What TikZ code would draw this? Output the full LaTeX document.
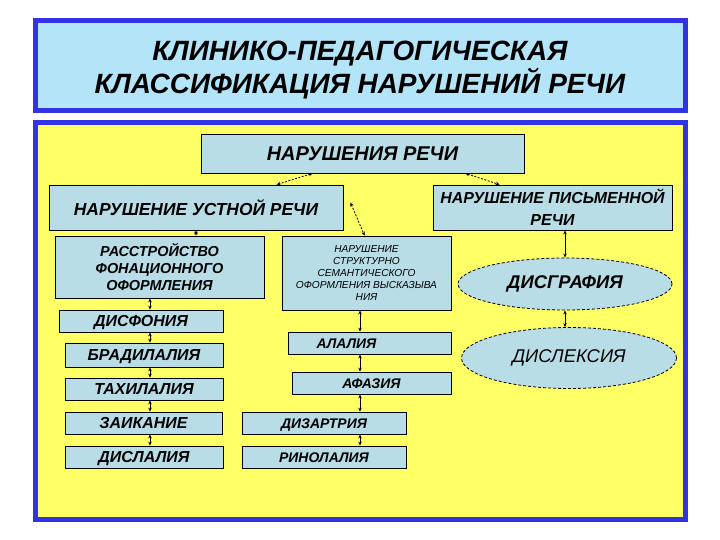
\documentclass[tikz,border=0pt]{standalone}
\usepackage{fontspec}
\setmainfont{Liberation Sans}
\usetikzlibrary{shapes.geometric, arrows.meta, positioning, calc}

\definecolor{frameblue}{RGB}{51,51,230}
\definecolor{titlefill}{RGB}{180,228,248}
\definecolor{panelyellow}{RGB}{255,255,102}
\definecolor{boxfill}{RGB}{184,221,230}

\begin{document}
\begin{tikzpicture}[
    x=1bp, y=-1bp,
    >={Stealth[length=4bp,width=3.5bp]},
    frame/.style={draw=frameblue, line width=5bp},
    box/.style={rectangle, draw, fill=boxfill, line width=0.8bp,
      inner sep=0pt, align=center, font=\bfseries\itshape\fontsize{16}{18}\selectfont},
    rowbox/.style={box, text height=11.5bp, text depth=0pt},
    midbox/.style={rowbox, text height=10bp, font=\bfseries\itshape\fontsize{14}{16}\selectfont},
    oval/.style={ellipse, draw, dash pattern=on 3bp off 2bp, fill=boxfill,
      inner sep=0pt, line width=0.8bp},
    link/.style={<->, line width=0.8bp},
    dlink/.style={link, dash pattern=on 2bp off 1.5bp}
]
\useasboundingbox (0,0) rectangle (720,540);

% frames
\draw[frame, fill=titlefill] (35.5,20.5) rectangle (685.5,110.5);
\draw[frame, fill=panelyellow] (35.5,122.5) rectangle (685.5,519.5);
\node[font=\bfseries\itshape\fontsize{28}{34}\selectfont, align=center] (title) at (360,70)
  {КЛИНИКО-ПЕДАГОГИЧЕСКАЯ\\КЛАССИФИКАЦИЯ НАРУШЕНИЙ РЕЧИ};

% top levels
\node[box, minimum width=323bp, minimum height=39bp, font=\bfseries\itshape\fontsize{20}{22}\selectfont] (root) at (362.5,153.5) {НАРУШЕНИЯ РЕЧИ};
\node[box, minimum width=294bp, minimum height=45bp, font=\bfseries\itshape\fontsize{17.5}{20}\selectfont] (ustn) at (196,207.5) {НАРУШЕНИЕ УСТНОЙ РЕЧИ};
\node[box, minimum width=239bp, minimum height=45bp, font=\bfseries\itshape\fontsize{16}{22}\selectfont] (pism) at (552.5,207.5) {НАРУШЕНИЕ ПИСЬМЕННОЙ\\РЕЧИ};

% second level
\node[box, minimum width=209bp, minimum height=62bp, font=\bfseries\itshape\fontsize{14.5}{17}\selectfont] (rass) at (159.5,267) {РАССТРОЙСТВО\\ФОНАЦИОННОГО\\ОФОРМЛЕНИЯ};
\node[box, minimum width=169bp, minimum height=74bp, font=\itshape\fontsize{10.2}{12}\selectfont] (sem) at (366.5,273)
  {НАРУШЕНИЕ\\СТРУКТУРНО\\СЕМАНТИЧЕСКОГО\\ОФОРМЛЕНИЯ ВЫСКАЗЫВА\\НИЯ};
\node[oval, minimum width=214bp, minimum height=52bp, font=\bfseries\itshape\fontsize{18.5}{20}\selectfont] (dgraf) at (565,284) {ДИСГРАФИЯ};
\node[oval, minimum width=215bp, minimum height=61bp, font=\itshape\fontsize{18.5}{20}\selectfont] (dlex) at (569,358) {ДИСЛЕКСИЯ};

% left column
\node[rowbox, minimum width=164bp, minimum height=22bp] (dfon) at (141,321) {ДИСФОНИЯ};
\node[rowbox, minimum width=158bp, minimum height=24bp] (brad) at (144,355) {БРАДИЛАЛИЯ};
\node[rowbox, minimum width=158bp, minimum height=22bp] (tahi) at (144,389) {ТАХИЛАЛИЯ};
\node[rowbox, minimum width=157bp, minimum height=22bp] (zaik) at (143.5,423) {ЗАИКАНИЕ};
\node[rowbox, minimum width=158bp, minimum height=22bp] (disl) at (144,457) {ДИСЛАЛИЯ};

% middle column
\node[midbox, minimum width=163bp, minimum height=22bp] (alal) at (369.5,343) {\hspace*{-46bp}АЛАЛИЯ};
\node[midbox, minimum width=159bp, minimum height=22bp] (afaz) at (371.5,383) {АФАЗИЯ};
\node[midbox, minimum width=164bp, minimum height=22bp] (dizar) at (324,423) {ДИЗАРТРИЯ};
\node[midbox, minimum width=164bp, minimum height=22bp] (rino) at (324,457) {РИНОЛАЛИЯ};

\coordinate (lcol) at (150,0);
\coordinate (mcol) at (360,0);

% connectors
\draw[dlink] ([xshift=112bp]root.south west) -- ([xshift=228bp]ustn.north west);
\draw[dlink] ([xshift=-59bp]root.south east) -- ([xshift=67bp]pism.north west);
\draw[dlink] ([xshift=7bp,yshift=5bp]ustn.east) -- ([xshift=83bp]sem.north west);
\draw[link] (ustn.south) -- (rass.north -| ustn.south);
\draw[link] (pism.south -| dgraf.north) -- (dgraf.north);
\draw[link] (dgraf.south) -- (dgraf.south |- dlex.north);

\draw[link] (rass.south -| lcol) -- (dfon.north -| lcol);
\draw[link] (dfon.south -| lcol) -- (brad.north -| lcol);
\draw[link] (brad.south -| lcol) -- (tahi.north -| lcol);
\draw[link] (tahi.south -| lcol) -- (zaik.north -| lcol);
\draw[link] (zaik.south -| lcol) -- (disl.north -| lcol);

\draw[link] (sem.south -| mcol) -- (alal.north -| mcol);
\draw[link] (alal.south -| mcol) -- (afaz.north -| mcol);
\draw[link] (afaz.south -| mcol) -- (dizar.north -| mcol);
\draw[link] (dizar.south -| mcol) -- (rino.north -| mcol);

\end{tikzpicture}
\end{document}
